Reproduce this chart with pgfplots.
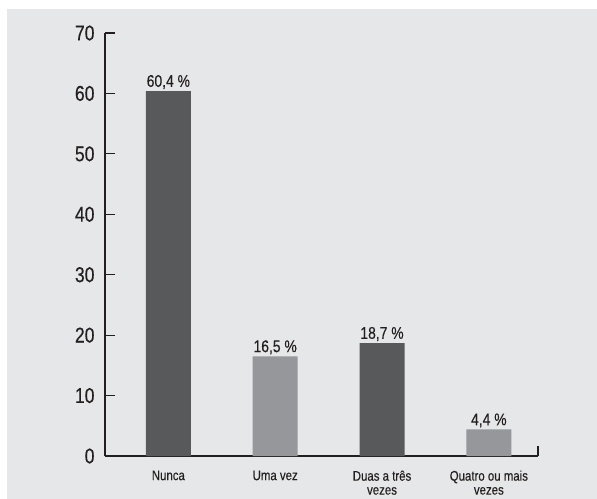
\documentclass[border=0pt]{standalone}
\usepackage{pgfplots}
\pgfplotsset{compat=1.18}
\usepackage{fontspec}
\setmainfont{Liberation Sans}[FakeStretch=0.82, FakeBold=0.3]
\definecolor{bg}{HTML}{E6E7E8}
\definecolor{darkbar}{HTML}{58595B}
\definecolor{lightbar}{HTML}{96979A}
\definecolor{txt}{HTML}{231F20}
\begin{document}
\begin{tikzpicture}[x=1bp,y=1bp]
\path[use as bounding box] (0,0) rectangle (597,-499);
\fill[bg] (7,-9) rectangle (597,-499);
\begin{axis}[
  at={(105bp,-456bp)}, anchor=south west,
  width=433bp, height=423bp, scale only axis,
  xmin=-0.593, xmax=3.46, ymin=0, ymax=70,
  axis x line*=bottom, axis y line*=left,
  axis line style={line width=1.2bp, draw=txt},
  ytick={0,10,...,70},
  xtick={0,1,2,3},
  xticklabels={Nunca, Uma vez, {Duas a três\\vezes}, {Quatro ou mais\\vezes}},
  x tick label style={align=center, font=\fontsize{14}{14}\selectfont, text=txt, yshift=-1bp},
  y tick label style={font=\fontsize{21.5}{22}\selectfont, text=txt, xshift=-7bp},
  /pgf/number format/assume math mode=true,
  xtick style={draw=none},
  ytick style={draw=txt, line width=1.2bp},
  tick align=inside, major tick length=10bp,
  ybar, bar width=45bp, bar shift=0pt,
  clip=false,
  point meta=explicit symbolic,
  nodes near coords,
  every node near coord/.append style={font=\fontsize{17}{18}\selectfont, text=txt, yshift=-1.5bp},
]
\addplot[fill=darkbar, draw=none] coordinates {(0,60.4) [60,4 \%] (2,18.7) [18,7 \%]};
\addplot[fill=lightbar, draw=none] coordinates {(1,16.5) [16,5 \%] (3,4.4) [4,4 \%]};
\draw[line width=1.2bp, txt] (axis cs:3.46,0) -- ++(0pt,10bp);
\end{axis}
\end{tikzpicture}
\end{document}
